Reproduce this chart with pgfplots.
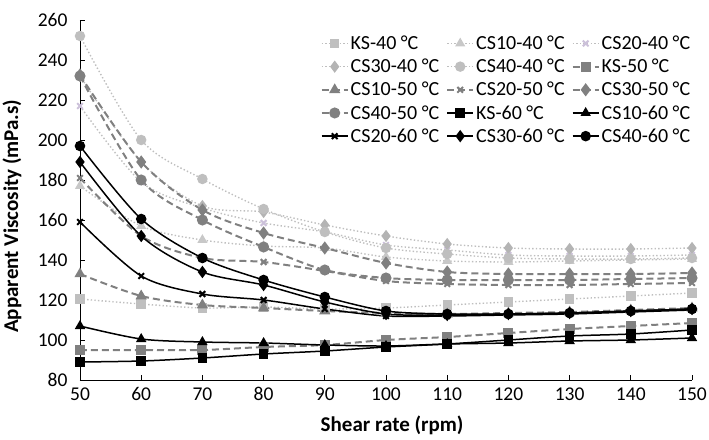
\documentclass[border=0pt]{standalone}
\usepackage{pgfplots}
\usepackage{pgfplotstable}
\pgfplotsset{compat=1.18}
\usepackage{fontspec}
\setmainfont{Carlito}

\definecolor{lg}{RGB}{191,191,191}
\definecolor{lt}{RGB}{200,200,200}
\definecolor{lp}{RGB}{204,193,218}
\definecolor{ld}{RGB}{180,180,180}
\definecolor{dg}{RGB}{128,128,128}

% 40 degC
\pgfplotstableread{
x   KS    CSa   CSb   CSc   CSd
50  120.5 177   217   232   252
60  118   157   179   189   200
70  116   150   166   167   180.5
80  116.5 147   158.5 164   165.5
90  115.5 146   154   157.5 154
100 116   141.5 147.5 152   146
110 117.5 139.5 145   148   143
120 119   139   142.5 146   141
130 120.5 139.5 142   145.5 140.5
140 122   140   142   145.5 140.5
150 123.5 140.5 142.5 146   141
}\tfour
% 50 degC
\pgfplotstableread{
x   KS    CSa   CSb   CSc   CSd
50  95    133   181   232.5 232
60  95    122   152   189   180
70  95    117.5 141   165   160
80  96.5  116   139   153.5 146.5
90  97.5  114.5 134.5 146   135
100 100   113.5 129.5 138.5 131
110 101.5 113   128   134   130
120 103.5 113.5 127.5 133   130
130 105.5 114   127.5 133   130
140 107   115   128   133   130.5
150 108.5 116   128.5 133.5 131
}\tfive
% 60 degC
\pgfplotstableread{
x   KS    CSa   CSb   CSc   CSd
50  89    107   159   189   197
60  89.5  100.5 132   152   160.5
70  91    99    123   134   141
80  93    98.5  120   127.5 130
90  94.5  97.5  115.5 119   121.5
100 96.5  97    112   113   114.5
110 98    98    112   112.5 113
120 100   98.5  112.5 113   113
130 102   99.5  113   113.5 113.5
140 103   100   114   114.5 114.5
150 105   101   115   115.5 115.5
}\tsix

\begin{document}
\begin{tikzpicture}
\useasboundingbox (-80pt,-59pt) rectangle (629pt,380pt);
\begin{axis}[
  scale only axis, width=612pt, height=360pt,
  xmin=50, xmax=150, ymin=80, ymax=260,
  xtick={50,60,...,150}, ytick={80,100,...,260},
  axis x line*=bottom, axis y line*=left,
  tick align=inside, major tick length=5pt,
  tick style={black, line width=0.8pt},
  axis line style={black, line width=0.8pt},
  ticklabel style={font=\fontsize{19.5}{22}\selectfont},
  xticklabel style={yshift=-4pt},
  yticklabel style={xshift=-9pt},
  /pgf/number format/assume math mode=true,
  xlabel={\textbf{Shear rate (rpm)}},
  ylabel={\textbf{Apparent Viscosity (mPa.s)}},
  label style={font=\fontsize{21}{24}\selectfont},
  xlabel style={at={(axis description cs:0.51,-0.125)}, anchor=center},
  ylabel style={at={(axis description cs:-0.111,0.455)}, anchor=center},
  legend columns=3,
  legend cell align=left,
  legend style={draw=none, fill=none, inner sep=0pt, row sep=4pt,
    font=\fontsize{20}{23}\selectfont,
    at={(axis description cs:0.393,0.962)}, anchor=north west,
    /tikz/every even column/.append style={column sep=5pt}},
  legend image code/.code={\draw[mark repeat=2,mark phase=2] plot coordinates {(0pt,0pt)(13pt,0pt)(26pt,0pt)};},
  every axis plot/.append style={smooth, tension=0.5},
  dot/.style={line width=1.4pt, dash pattern=on 1.4pt off 2.2pt},
  dsh/.style={line width=2pt, dash pattern=on 7pt off 4pt},
  sol/.style={line width=1.5pt},
]
% 40 degC
\addplot[dot, lg, mark=square*, mark size=4pt, mark options={solid, fill=lg, draw=lg}] table[x=x,y=KS]{\tfour};
\addlegendentry{KS-40 °C}
\addplot[dot, lg, mark=triangle*, mark size=4.5pt, mark options={solid, fill=lt, draw=lt}] table[x=x,y=CSa]{\tfour};
\addlegendentry{CS10-40 °C}
\addplot[dot, lg, mark=x, mark size=4pt, mark options={solid, draw=lp, line width=2pt}] table[x=x,y=CSb]{\tfour};
\addlegendentry{CS20-40 °C}
\addplot[dot, lg, mark=diamond*, mark size=5pt, mark options={solid, fill=ld, draw=ld}] table[x=x,y=CSc]{\tfour};
\addlegendentry{CS30-40 °C}
\addplot[dot, lg, mark=*, mark size=4.5pt, mark options={solid, fill=lg, draw=lg}] table[x=x,y=CSd]{\tfour};
\addlegendentry{CS40-40 °C}
% 50 degC
\addplot[dsh, dg, mark=square*, mark size=4pt, mark options={solid, fill=dg, draw=dg}] table[x=x,y=KS]{\tfive};
\addlegendentry{KS-50 °C}
\addplot[dsh, dg, mark=triangle*, mark size=4.5pt, mark options={solid, fill=dg, draw=dg}] table[x=x,y=CSa]{\tfive};
\addlegendentry{CS10-50 °C}
\addplot[dsh, dg, mark=x, mark size=4pt, mark options={solid, draw=dg, line width=2pt}] table[x=x,y=CSb]{\tfive};
\addlegendentry{CS20-50 °C}
\addplot[dsh, dg, mark=diamond*, mark size=5pt, mark options={solid, fill=dg, draw=dg}] table[x=x,y=CSc]{\tfive};
\addlegendentry{CS30-50 °C}
\addplot[dsh, dg, mark=*, mark size=4.5pt, mark options={solid, fill=dg, draw=dg}] table[x=x,y=CSd]{\tfive};
\addlegendentry{CS40-50 °C}
% 60 degC
\addplot[sol, black, mark=square*, mark size=4pt, mark options={solid, fill=black}] table[x=x,y=KS]{\tsix};
\addlegendentry{KS-60 °C}
\addplot[sol, black, mark=triangle*, mark size=4.5pt, mark options={solid, fill=black}] table[x=x,y=CSa]{\tsix};
\addlegendentry{CS10-60 °C}
\addplot[sol, black, mark=x, mark size=4pt, mark options={solid, line width=2pt}] table[x=x,y=CSb]{\tsix};
\addlegendentry{CS20-60 °C}
\addplot[sol, black, mark=diamond*, mark size=5pt, mark options={solid, fill=black}] table[x=x,y=CSc]{\tsix};
\addlegendentry{CS30-60 °C}
\addplot[sol, black, mark=*, mark size=4.5pt, mark options={solid, fill=black}] table[x=x,y=CSd]{\tsix};
\addlegendentry{CS40-60 °C}
\end{axis}
\end{tikzpicture}
\end{document}
